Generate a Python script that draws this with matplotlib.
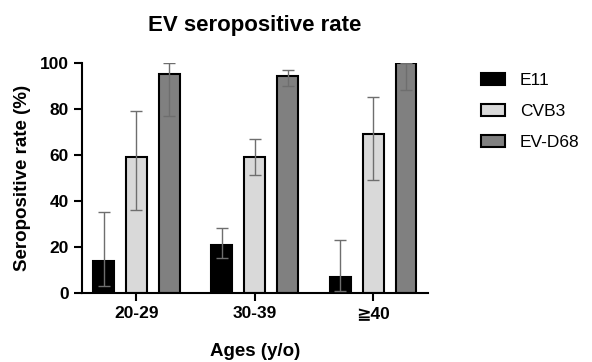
import numpy as np
import matplotlib
matplotlib.use("Agg")
import matplotlib.pyplot as plt

plt.rcParams['font.family'] = ['Liberation Sans', 'DejaVu Sans']

# Datos
grupos = ["20-29", "30-39", "≧40"]
series = ["E11", "CVB3", "EV-D68"]
valores = {
    "E11":    [14, 21, 7],
    "CVB3":   [59, 59, 69],
    "EV-D68": [95, 94, 100],
}
err_bajo = {
    "E11":    [3, 15, 1],
    "CVB3":   [36, 51, 49],
    "EV-D68": [77, 90, 88],
}
err_alto = {
    "E11":    [35, 28, 23],
    "CVB3":   [79, 67, 85],
    "EV-D68": [100, 97, 100],
}
colores = {"E11": "#000000", "CVB3": "#d9d9d9", "EV-D68": "#808080"}

fig = plt.figure(figsize=(5.92, 3.62), dpi=100, facecolor='w')
ax = fig.add_axes([0.1385, 0.191, 0.5845, 0.636])

x = np.arange(len(grupos))
ancho = 0.177
paso = 0.278

for i, s in enumerate(series):
    pos = x + (i - 1) * paso
    v = np.array(valores[s])
    yerr = [v - np.array(err_bajo[s]), np.array(err_alto[s]) - v]
    ax.bar(pos, v, width=ancho, color=colores[s], edgecolor='k', linewidth=1.5,
           label=s, zorder=2)
    ax.errorbar(pos, v, yerr=yerr, fmt='none', ecolor='#6e6e6e', elinewidth=1.0,
                capsize=4, capthick=1.0, zorder=3)

ax.set_xlim(-0.46, 2.464)
ax.set_ylim(0, 100)
ax.set_yticks([0, 20, 40, 60, 80, 100])
ax.set_xticks(x)
ax.set_xticklabels(grupos)

for sp in ['top', 'right']:
    ax.spines[sp].set_visible(False)
for sp in ['left', 'bottom']:
    ax.spines[sp].set_linewidth(1.5)

ax.tick_params(axis='both', which='major', direction='out', length=6, width=1.5,
               labelsize=12.5, pad=3.5)
for lab in ax.get_xticklabels() + ax.get_yticklabels():
    lab.set_fontweight('bold')

ax.set_ylabel("Seropositive rate (%)", fontsize=13.5, fontweight='bold', labelpad=6.5)
ax.set_xlabel("Ages (y/o)", fontsize=13.5, fontweight='bold', labelpad=16)
ax.set_title("EV seropositive rate", fontsize=16, fontweight='bold', pad=23)

ax.legend(loc='upper left', bbox_to_anchor=(1.108, 1.022), frameon=False,
          fontsize=12.5, handlelength=1.38, handleheight=0.63, labelspacing=0.92,
          handletextpad=0.86)

fig.savefig("out.png", dpi=100, facecolor='w')
plt.close(fig)
